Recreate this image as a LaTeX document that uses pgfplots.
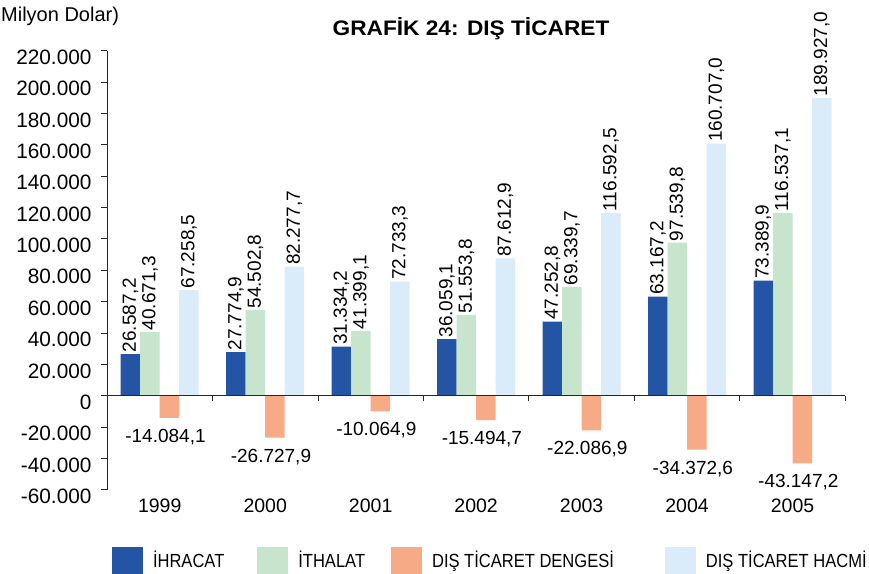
\documentclass[border=0pt]{standalone}
\usepackage{pgfplots}
\pgfplotsset{compat=1.18}
\usepackage{pgfplotstable}
\usepackage{fontspec}
\setmainfont{Liberation Sans}
\newfontfamily\condfont{Liberation Sans}[FakeStretch=0.87]
\newfontfamily\titlefont{Liberation Sans}[FakeStretch=1.08]
\definecolor{cIhr}{RGB}{36,85,164}
\definecolor{cIth}{RGB}{199,228,205}
\definecolor{cDen}{RGB}{246,170,134}
\definecolor{cHac}{RGB}{218,236,250}

\pgfplotstableread{
x ihr ihrl ith ithl den denl hac hacl
0 26587.2 26.587,2 40671.3 40.671,3 -14084.1 -14.084,1 67258.5 67.258,5
1 27774.9 27.774,9 54502.8 54.502,8 -26727.9 -26.727,9 82277.7 82.277,7
2 31334.2 31.334,2 41399.1 41.399,1 -10064.9 -10.064,9 72733.3 72.733,3
3 36059.1 36.059,1 51553.8 51.553,8 -15494.7 -15.494,7 87612.9 87.612,9
4 47252.8 47.252,8 69339.7 69.339,7 -22086.9 -22.086,9 116592.5 116.592,5
5 63167.2 63.167,2 97539.8 97.539,8 -34372.6 -34.372,6 160707.0 160.707,0
6 73389.9 73.389,9 116537.1 116.537,1 -43147.2 -43.147,2 189927.0 189.927,0
}\datatable

\begin{document}
\begin{tikzpicture}
\begin{axis}[
  at={(107pt,83.2pt)}, anchor=south west, scale only axis,
  width=738.3pt, height=439.1pt,
  xmin=-0.5, xmax=6.5, ymin=-60000, ymax=220000,
  ybar=0pt, bar width=19.5pt,
  axis y line=left, axis x line=bottom,
  x axis line style={draw=none},
  y axis line style={-, black!85, line width=0.8pt},
  xtick={0,1,2,3,4,5,6},
  xticklabels={1999,2000,2001,2002,2003,2004,2005},
  xtick style={draw=none},
  ytick={-60000,-40000,-20000,0,20000,40000,60000,80000,100000,120000,140000,160000,180000,200000,220000},
  ytick style={black!85, line width=0.8pt},
  tick align=outside, major tick length=6pt,
  scaled y ticks=false,
  /pgf/number format/assume math mode=true,
  yticklabel style={/pgf/number format/fixed, /pgf/number format/1000 sep={.},
    font=\fontsize{20.8}{24}\selectfont, xshift=-6pt, yshift=-6.5pt},
  xticklabel style={font=\fontsize{19.5}{24}\selectfont, yshift=0.8pt},
  clip=false,
  nodes near coords, point meta=explicit symbolic,
  every node near coord/.append style={font=\fontsize{19}{22}\selectfont, inner sep=1.5pt},
  legend style={at={(0.0068,-0.161)}, anchor=west, draw=none, inner sep=0pt,
    outer sep=0pt,
    font=\condfont\fontsize{19}{23}\selectfont,
    nodes={inner sep=0pt},
    /tikz/every odd column/.append style={column sep=10pt},
    /tikz/column 2/.style={column sep=33pt},
    /tikz/column 4/.style={column sep=26pt},
    /tikz/column 6/.style={column sep=51pt}},
  legend columns=4, legend cell align=left,
  legend image code/.code={\draw[#1,draw=none] (0pt,-13.5pt) rectangle (31pt,13.5pt);},
]
\addplot[fill=cIhr, draw=none, nodes near coords style={rotate=90, anchor=west}]
  table[x=x, y=ihr, meta=ihrl] {\datatable};
\addplot[fill=cIth, draw=none, nodes near coords style={rotate=90, anchor=west}]
  table[x=x, y=ith, meta=ithl] {\datatable};
\addplot[fill=cDen, draw=none, nodes near coords style={anchor=north, yshift=-9.5pt, xshift=-4pt}]
  table[x=x, y=den, meta=denl] {\datatable};
\addplot[fill=cHac, draw=none, nodes near coords style={rotate=90, anchor=west}]
  table[x=x, y=hac, meta=hacl] {\datatable};
\legend{İHRACAT, İTHALAT, DIŞ TİCARET DENGESİ, DIŞ TİCARET HACMİ}
\end{axis}
\begin{axis}[
  at={(107pt,177.3pt)}, anchor=south west, scale only axis,
  width=738.3pt, height=345pt,
  xmin=-0.5, xmax=6.5, ymin=0, ymax=1,
  axis x line=bottom, axis y line=none,
  x axis line style={-, black!85, line width=0.8pt},
  xtick={0.5,1.5,2.5,3.5,4.5,5.5,6.5}, xticklabels={},
  tick align=outside, major tick length=5pt,
  xtick style={black!85, line width=0.8pt},
]
\end{axis}
\node[font=\titlefont\bfseries\fontsize{21}{25}\selectfont] at (471pt,544pt) {GRAFİK 24: DIŞ TİCARET};
\node[anchor=west, inner sep=0pt, font=\fontsize{20}{24}\selectfont] at (1pt,556.5pt) {Milyon Dolar)};
\pgfresetboundingbox
\path[use as bounding box] (0,0) rectangle (869pt,573pt);
\end{tikzpicture}
\end{document}
